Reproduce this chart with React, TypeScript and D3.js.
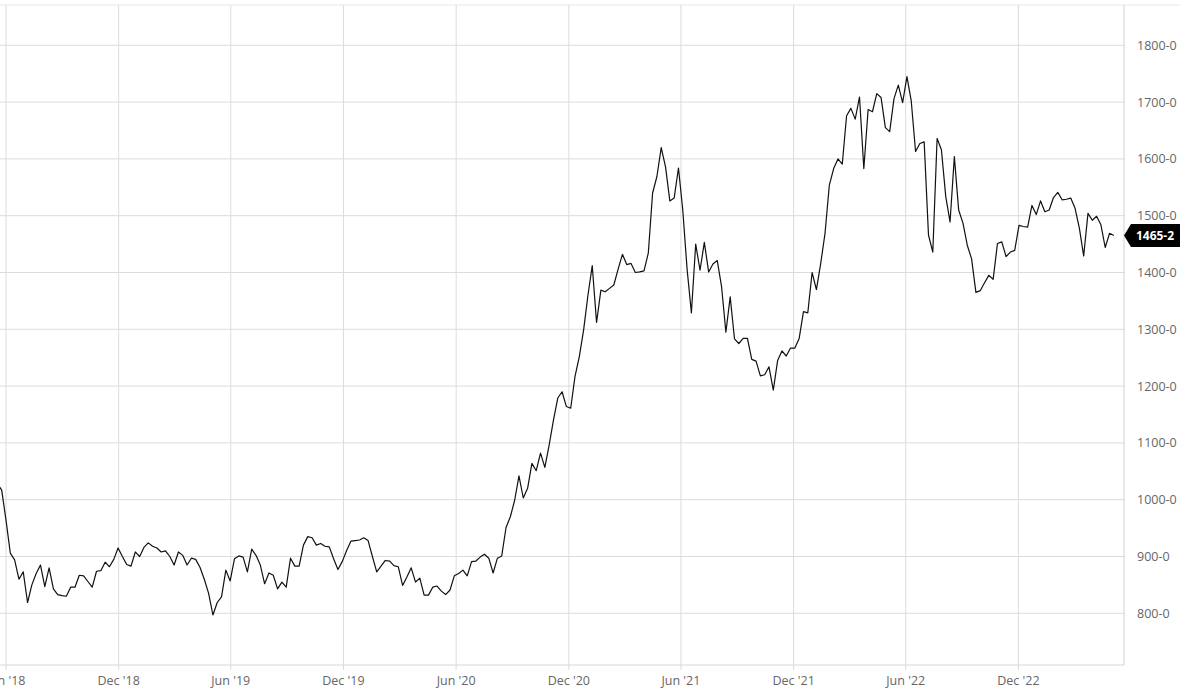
import React from "react";
import * as d3 from "d3";

const startDate = "2018-05-18";
const values: number[] = [
  1028, 1017, 964, 906, 894, 860, 873, 819, 850, 870,
  885, 847, 880, 843, 833, 831, 830, 846, 846, 867,
  866, 856, 846, 874, 875, 890, 882, 895, 915, 900,
  886, 883, 908, 900, 916, 924, 918, 915, 908, 910,
  900, 885, 908, 902, 885, 897, 895, 881, 860, 835,
  797, 819, 829, 876, 857, 896, 901, 899, 873, 913,
  902, 885, 852, 871, 867, 843, 855, 846, 897, 883,
  883,
  920, 935, 933, 920, 923, 918, 917, 896, 877, 891,
  910, 927, 928, 929, 933, 928, 900, 873, 883, 893,
  892, 884, 882, 849, 864, 880, 855, 862, 832, 832,
  846, 848, 839, 833, 841, 866, 870,
  876, 866, 891, 892, 899, 904, 897, 871, 897, 901,
  951, 970, 999, 1042, 1003, 1020, 1064, 1051, 1082, 1057,
  1096, 1140, 1179, 1190, 1164, 1161, 1217, 1252, 1299, 1360,
  1412,
  1312, 1369, 1366, 1372, 1378, 1406, 1432, 1414, 1416, 1400,
  1401, 1403, 1434, 1540, 1569, 1620, 1586, 1526, 1531, 1584,
  1510, 1406, 1329, 1450, 1404, 1453, 1401, 1415, 1421, 1375,
  1295, 1357, 1283, 1275, 1284, 1284, 1247, 1244, 1218, 1220,
  1234, 1193, 1245, 1262, 1253, 1267, 1267, 1284, 1331, 1329,
  1400, 1370, 1416, 1469, 1554, 1583, 1600, 1591, 1676, 1689,
  1670, 1709, 1583, 1687, 1683, 1715, 1708, 1655, 1648, 1706,
  1730, 1699, 1745, 1702, 1613, 1627, 1630, 1466, 1436, 1636,
  1616, 1534, 1489, 1604, 1510, 1487, 1448, 1424, 1365, 1368,
  1382, 1395, 1388, 1451, 1454, 1428, 1436, 1439, 1483, 1481,
  1480, 1518, 1502, 1526, 1507, 1510, 1532, 1541, 1528, 1529,
  1531, 1513, 1478, 1429, 1504, 1492, 1499, 1484, 1444, 1469,
  1465.2,
];

const yTicks = [800, 900, 1000, 1100, 1200, 1300, 1400, 1500, 1600, 1700, 1800];
const xTickDates = [
  "2018-06-01", "2018-12-01", "2019-06-01", "2019-12-01", "2020-06-01",
  "2020-12-01", "2021-06-01", "2021-12-01", "2022-06-01", "2022-12-01",
];
const xTickLabels = [
  "Jun '18", "Dec '18", "Jun '19", "Dec '19", "Jun '20",
  "Dec '20", "Jun '21", "Dec '21", "Jun '22", "Dec '22",
];

const W = 1200;
const H = 698;
const plotLeft = 0;
const plotRight = 1124;
const plotTop = 5;
const plotBottom = 665;

export default function App() {
  const x = d3
    .scaleUtc()
    .domain([new Date("2018-06-01T00:00:00Z"), new Date("2022-06-01T00:00:00Z")])
    .range([6, 905.7]);
  const y = d3.scaleLinear().domain([800, 1800]).range([613.3, 45.3]);

  const start = new Date(startDate + "T00:00:00Z").getTime();
  const data = values.map((v, i) => ({ d: new Date(start + i * 7 * 86400000), v }));

  const line = d3
    .line<{ d: Date; v: number }>()
    .x((p) => x(p.d))
    .y((p) => y(p.v));

  const last = data[data.length - 1];
  const ly = y(last.v);
  const tagLabel = last.v.toFixed(1).replace(".", "-");
  const font = "'Open Sans', 'Noto Sans', sans-serif";
  const grid = "#dcdcdc";

  return (
    <svg
      width={W}
      height={H}
      style={{ position: "absolute", left: 0, top: 0, background: "#fff" }}
    >
      <defs>
        <clipPath id="plotclip">
          <rect x={plotLeft} y={plotTop} width={plotRight - plotLeft} height={plotBottom - plotTop} />
        </clipPath>
      </defs>
      <rect x={0} y={0} width={W} height={H} fill="#fff" />
      {/* top border */}
      <line x1={0} x2={1180} y1={plotTop} y2={plotTop} stroke="#e8e8e8" strokeWidth={1} />
      {/* horizontal grid */}
      {yTicks.map((t) => (
        <line key={"h" + t} x1={plotLeft} x2={plotRight} y1={y(t)} y2={y(t)} stroke={grid} strokeWidth={1} />
      ))}
      {/* vertical grid */}
      {xTickDates.map((s) => {
        const xx = x(new Date(s + "T00:00:00Z"));
        return <line key={"v" + s} x1={xx} x2={xx} y1={plotTop} y2={plotBottom + 5} stroke={grid} strokeWidth={1} />;
      })}
      {/* frame */}
      <line x1={plotLeft} x2={plotRight} y1={plotBottom} y2={plotBottom} stroke="#d6d6d6" strokeWidth={1} />
      <line x1={plotRight} x2={plotRight} y1={plotTop} y2={plotBottom} stroke="#d0d0d0" strokeWidth={1} />
      {/* series */}
      <path d={line(data) || ""} fill="none" stroke="#111" strokeWidth={1.2} strokeLinejoin="round" clipPath="url(#plotclip)" />
      {/* y labels */}
      {yTicks.map((t) => (
        <text key={"yl" + t} x={1137} y={y(t) + 4.5} fontFamily={font} fontSize={12.5} fill="#666">
          {`${t}-0`}
        </text>
      ))}
      {/* x labels */}
      {xTickDates.map((s, i) => (
        <text
          key={"xl" + s}
          x={x(new Date(s + "T00:00:00Z"))}
          y={685}
          textAnchor="middle"
          fontFamily={font}
          fontSize={12.5}
          fill="#666"
        >
          {xTickLabels[i]}
        </text>
      ))}
      {/* last price tag */}
      <path
        d={`M${plotRight},${ly} L${plotRight + 7},${ly - 11.5} L1180,${ly - 11.5} L1180,${ly + 11.5} L${plotRight + 7},${ly + 11.5} Z`}
        fill="#000"
      />
      <text x={1155} y={ly + 4.3} textAnchor="middle" fontFamily={font} fontSize={12} fontWeight={700} fill="#fff">
        {tagLabel}
      </text>
    </svg>
  );
}
